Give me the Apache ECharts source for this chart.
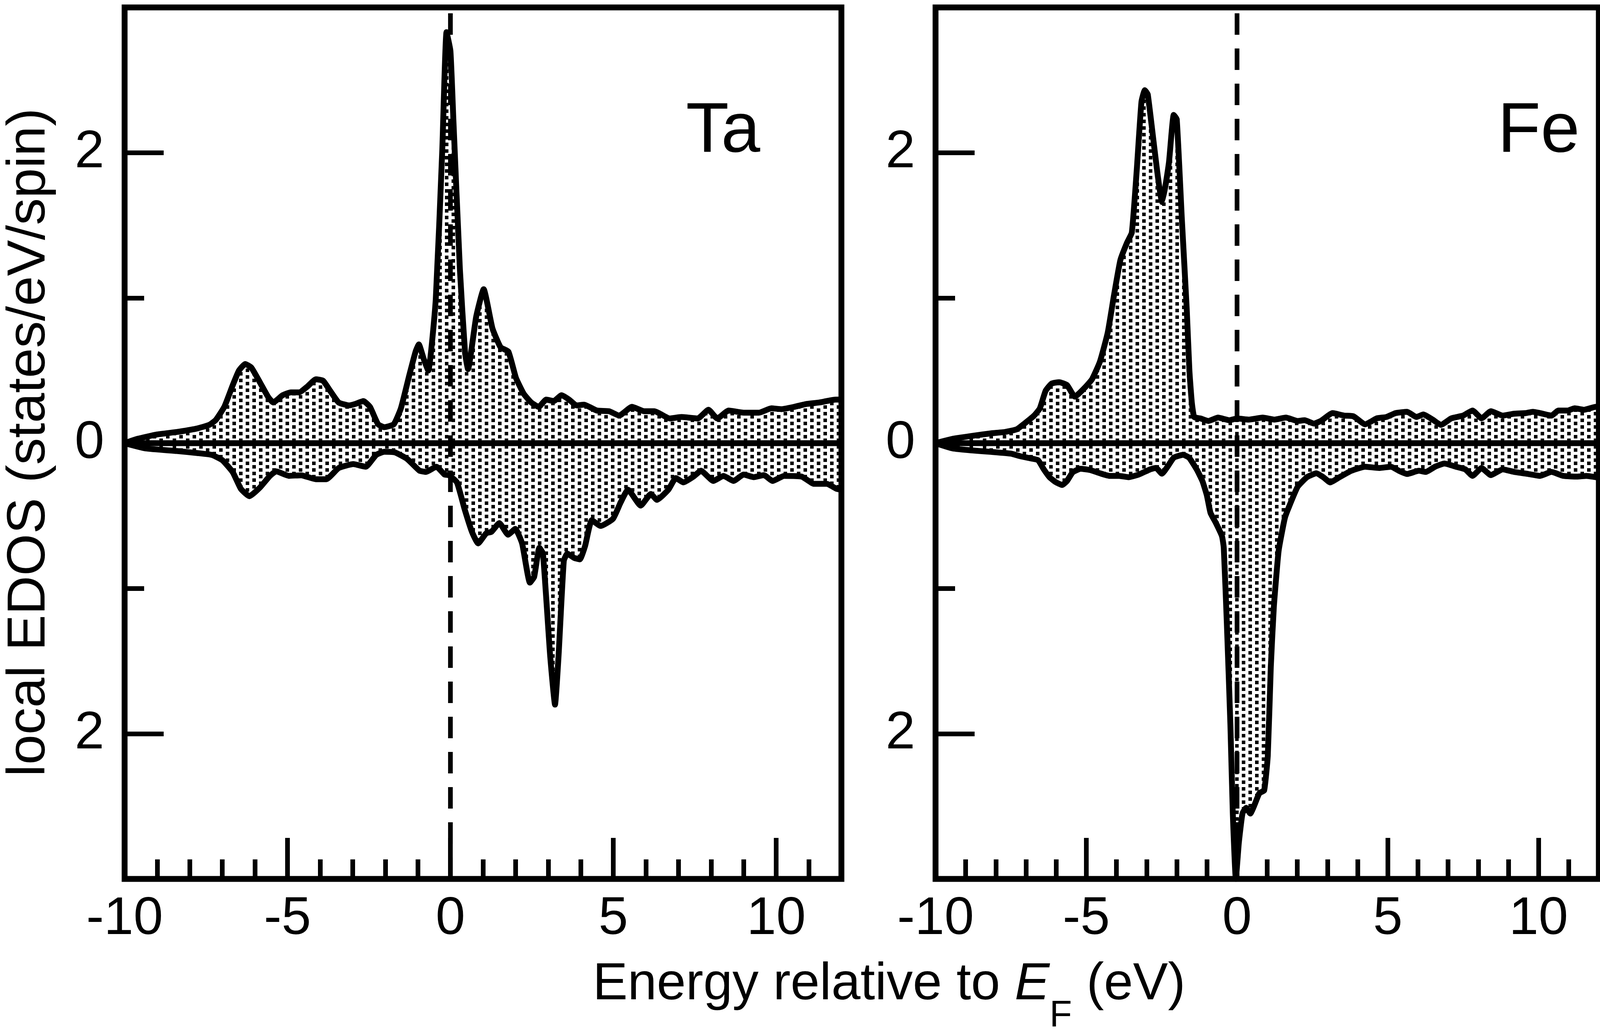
<!DOCTYPE html>
<html style="height: 100%">
<head>
<meta charset="utf-8">
<script src="https://cdn.jsdelivr.net/npm/echarts@6/dist/echarts.min.js"></script>
</head>
<body style="height: 100%; margin: 0; background: #ffffff">
<div id="container" style="height: 100%"></div>
<script type="text/javascript">
// local EDOS, [energy (eV), states/eV/spin]; spin down stored as negative
var taUp = [[-10,0],[-9.6,0.03],[-9.0,0.06],[-8.4,0.077],[-7.8,0.1],[-7.4,0.126],[-7.2,0.16],[-6.94,0.25],[-6.68,0.40],[-6.49,0.50],[-6.3,0.545],[-6.11,0.52],[-5.85,0.42],[-5.6,0.32],[-5.44,0.28],[-5.15,0.33],[-4.9,0.35],[-4.64,0.35],[-4.39,0.39],[-4.13,0.44],[-3.91,0.43],[-3.69,0.36],[-3.43,0.28],[-3.11,0.26],[-2.92,0.27],[-2.67,0.29],[-2.47,0.25],[-2.22,0.13],[-2.03,0.11],[-1.74,0.13],[-1.52,0.24],[-1.26,0.47],[-1.07,0.63],[-0.97,0.68],[-0.82,0.58],[-0.68,0.5],[-0.45,0.99],[-0.25,2.02],[-0.12,2.83],[0.0,2.7],[0.09,2.23],[0.29,1.2],[0.45,0.62],[0.54,0.51],[0.79,0.87],[1.02,1.06],[1.29,0.79],[1.54,0.66],[1.78,0.63],[2.01,0.45],[2.25,0.34],[2.48,0.28],[2.71,0.25],[2.94,0.30],[3.17,0.29],[3.41,0.33],[3.64,0.30],[3.87,0.26],[4.1,0.265],[4.49,0.225],[4.87,0.22],[5.18,0.19],[5.57,0.25],[5.95,0.22],[6.26,0.22],[6.73,0.17],[7.09,0.18],[7.59,0.17],[7.92,0.23],[8.19,0.17],[8.54,0.225],[9.0,0.21],[9.47,0.21],[9.85,0.24],[10.16,0.234],[10.55,0.25],[10.93,0.27],[11.32,0.28],[11.55,0.29],[11.82,0.30],[12,0.30]];
var taDown = [[-10,0],[-9.36,-0.036],[-8.4,-0.054],[-7.77,-0.068],[-7.32,-0.081],[-7.0,-0.117],[-6.68,-0.2],[-6.43,-0.315],[-6.17,-0.365],[-5.85,-0.306],[-5.54,-0.225],[-5.35,-0.194],[-4.96,-0.225],[-4.58,-0.221],[-4.13,-0.248],[-3.81,-0.248],[-3.43,-0.171],[-2.98,-0.144],[-2.6,-0.162],[-2.28,-0.081],[-2.03,-0.059],[-1.71,-0.063],[-1.33,-0.108],[-0.95,-0.189],[-0.75,-0.198],[-0.43,-0.162],[-0.18,-0.216],[-0.05,-0.22],[0.2,-0.27],[0.43,-0.45],[0.66,-0.61],[0.85,-0.69],[1.1,-0.62],[1.26,-0.61],[1.5,-0.55],[1.77,-0.63],[1.99,-0.59],[2.2,-0.69],[2.44,-0.96],[2.57,-0.92],[2.73,-0.72],[2.84,-0.76],[3.06,-1.46],[3.21,-1.80],[3.32,-1.46],[3.48,-0.81],[3.59,-0.76],[3.8,-0.79],[3.97,-0.80],[4.13,-0.71],[4.34,-0.53],[4.61,-0.57],[4.99,-0.52],[5.22,-0.41],[5.45,-0.32],[5.84,-0.43],[6.15,-0.35],[6.34,-0.39],[6.69,-0.32],[6.92,-0.24],[7.15,-0.27],[7.46,-0.23],[7.69,-0.19],[8.07,-0.26],[8.38,-0.225],[8.69,-0.26],[9.0,-0.216],[9.31,-0.234],[9.62,-0.22],[9.89,-0.26],[10.24,-0.225],[10.78,-0.23],[11.16,-0.28],[11.55,-0.28],[11.86,-0.315],[12,-0.32]];
var feUp = [[-10,0],[-9.43,0.03],[-8.79,0.05],[-8.15,0.068],[-7.7,0.077],[-7.31,0.095],[-7.05,0.135],[-6.73,0.19],[-6.54,0.24],[-6.35,0.36],[-6.15,0.41],[-5.9,0.42],[-5.64,0.40],[-5.38,0.32],[-5.06,0.38],[-4.81,0.44],[-4.55,0.56],[-4.29,0.76],[-4.08,1.02],[-3.87,1.26],[-3.65,1.38],[-3.49,1.45],[-3.33,1.87],[-3.17,2.35],[-3.06,2.43],[-2.96,2.40],[-2.48,1.66],[-2.26,1.93],[-2.1,2.26],[-2.0,2.23],[-1.83,1.54],[-1.67,0.93],[-1.58,0.5],[-1.5,0.28],[-1.42,0.18],[-1.21,0.17],[-0.95,0.153],[-0.63,0.176],[-0.25,0.158],[0,0.17],[0.39,0.162],[0.85,0.176],[1.24,0.162],[1.62,0.176],[2.01,0.153],[2.24,0.158],[2.55,0.135],[2.78,0.153],[3.17,0.207],[3.55,0.19],[3.86,0.185],[4.25,0.13],[4.64,0.171],[4.95,0.18],[5.26,0.207],[5.64,0.216],[5.95,0.18],[6.18,0.198],[6.49,0.162],[6.76,0.126],[7.11,0.171],[7.5,0.19],[7.81,0.225],[8.11,0.171],[8.42,0.22],[8.81,0.19],[9.2,0.203],[9.58,0.207],[9.81,0.216],[10.05,0.207],[10.43,0.19],[10.66,0.225],[10.97,0.225],[11.2,0.24],[11.51,0.23],[11.9,0.25],[12,0.25]];
var feDown = [[-10,0],[-9.43,-0.036],[-8.79,-0.05],[-8.15,-0.06],[-7.5,-0.072],[-7.18,-0.09],[-6.86,-0.104],[-6.6,-0.117],[-6.41,-0.18],[-6.22,-0.234],[-6.03,-0.266],[-5.8,-0.288],[-5.64,-0.26],[-5.45,-0.2],[-5.19,-0.176],[-4.87,-0.185],[-4.55,-0.207],[-4.23,-0.225],[-3.91,-0.225],[-3.59,-0.234],[-3.26,-0.216],[-2.88,-0.18],[-2.69,-0.17],[-2.49,-0.21],[-2.3,-0.16],[-2.1,-0.1],[-1.79,-0.08],[-1.59,-0.1],[-1.34,-0.18],[-1.15,-0.26],[-1.0,-0.36],[-0.88,-0.48],[-0.7,-0.55],[-0.5,-0.64],[-0.44,-0.72],[-0.34,-1.23],[-0.22,-1.94],[-0.14,-2.55],[-0.04,-3.0],[0.06,-2.75],[0.18,-2.55],[0.3,-2.51],[0.44,-2.55],[0.58,-2.49],[0.74,-2.41],[0.9,-2.39],[1.02,-2.15],[1.12,-1.54],[1.22,-1.13],[1.38,-0.74],[1.58,-0.52],[1.7,-0.45],[2.01,-0.30],[2.32,-0.234],[2.63,-0.207],[2.86,-0.234],[3.09,-0.27],[3.4,-0.234],[3.79,-0.19],[4.25,-0.162],[4.71,-0.171],[5.1,-0.162],[5.41,-0.194],[5.64,-0.212],[6.03,-0.19],[6.26,-0.198],[6.57,-0.162],[6.88,-0.14],[7.26,-0.162],[7.57,-0.18],[7.81,-0.225],[8.11,-0.171],[8.42,-0.22],[8.81,-0.18],[9.2,-0.198],[9.66,-0.212],[10.05,-0.225],[10.43,-0.198],[10.82,-0.225],[11.28,-0.23],[11.59,-0.225],[11.9,-0.234],[12,-0.235]];

var panelNames = ['Ta', 'Fe'];
var xRange = [-10, 12];
var yRange = [-3, 3];
var zeroLine = [[-10, 0], [12, 0]];
var fermiLine = [[0, -3], [0, 3]];

var dom = document.getElementById("container");
var myChart = echarts.init(dom);
window.onresize = myChart.resize;

// stipple used for the filled areas
var dots = document.createElement('canvas');
dots.width = 34;
dots.height = 34;
var ctx = dots.getContext('2d');
ctx.fillStyle = '#000';
ctx.fillRect(0, 0, 9, 9);
ctx.fillRect(0, 17, 9, 9);
ctx.fillRect(17, 8, 9, 9);
ctx.fillRect(17, 25, 9, 9);
var stipple = { image: dots, repeat: 'repeat' };

var font = 'Liberation Sans';
var tickStyle = { color: '#000', width: 12 };
var noLine = { show: false, onZero: false };

function xAxesFor(gi) {
	return [{
		type: 'value', gridIndex: gi, position: 'bottom',
		min: xRange[0], max: xRange[1], interval: 1,
		axisLine: noLine, splitLine: { show: false },
		axisTick: { inside: true, length: 50, lineStyle: tickStyle },
		axisLabel: {
			margin: 35, fontSize: 136, color: '#000', fontFamily: font,
			formatter: function (v) { return v % 5 === 0 ? String(v) : ''; }
		}
	}, {
		type: 'value', gridIndex: gi, position: 'bottom',
		min: xRange[0], max: xRange[1], interval: 5,
		axisLine: noLine, splitLine: { show: false },
		axisLabel: { show: false },
		axisTick: { inside: true, length: 105, lineStyle: tickStyle }
	}];
}

function yAxesFor(gi) {
	return [{
		type: 'value', gridIndex: gi, position: 'left',
		min: yRange[0], max: yRange[1], interval: 1,
		axisLine: noLine, splitLine: { show: false },
		axisTick: { inside: true, length: 50, lineStyle: tickStyle },
		axisLabel: {
			margin: 52, fontSize: 136, color: '#000', fontFamily: font,
			formatter: function (v) { return v % 2 === 0 ? String(Math.abs(v)) : ''; }
		}
	}, {
		type: 'value', gridIndex: gi, position: 'left',
		min: yRange[0], max: yRange[1], splitNumber: 3,
		axisLine: noLine, splitLine: { show: false },
		axisLabel: { show: false },
		axisTick: { inside: true, length: 100, lineStyle: tickStyle }
	}];
}

function edos(data, gi) {
	return {
		type: 'line', xAxisIndex: gi * 2, yAxisIndex: gi * 2,
		data: data, showSymbol: false, smooth: 0.15, z: 3,
		lineStyle: { color: '#000', width: 15, join: 'round' },
		areaStyle: { color: stipple, opacity: 1 }
	};
}

function plain(data, gi, width, dash, z) {
	return {
		type: 'line', xAxisIndex: gi * 2, yAxisIndex: gi * 2,
		data: data, showSymbol: false, z: z, silent: true,
		lineStyle: { color: '#000', width: width, type: dash }
	};
}

var frame = { show: true, borderColor: '#000', borderWidth: 15, backgroundColor: 'transparent' };

option = {
	backgroundColor: '#ffffff',
	animation: false,
	grid: [
		Object.assign({ left: 319, top: 19, width: 1835, height: 2230 }, frame),
		Object.assign({ left: 2395, top: 19, width: 1835, height: 2230 }, frame)
	],
	xAxis: xAxesFor(0).concat(xAxesFor(1)),
	yAxis: yAxesFor(0).concat(yAxesFor(1)),
	series: [
		edos(taUp, 0), edos(taDown, 0),
		plain(zeroLine, 0, 15, 'solid', 4),
		plain(fermiLine, 0, 12, [55, 35], 5),
		edos(feUp, 1), edos(feDown, 1),
		plain(zeroLine, 1, 15, 'solid', 4),
		plain(fermiLine, 1, 12, [55, 35], 5)
	],
	graphic: [{
		type: 'text', x: 1851, y: 338,
		style: { text: panelNames[0], fontSize: 180, fontFamily: font, fill: '#000', align: 'center', verticalAlign: 'middle' }
	}, {
		type: 'text', x: 3939, y: 338,
		style: { text: panelNames[1], fontSize: 180, fontFamily: font, fill: '#000', align: 'center', verticalAlign: 'middle' }
	}, {
		type: 'text', x: 76, y: 1132, rotation: Math.PI / 2,
		style: { text: 'local EDOS (states/eV/spin)', fontSize: 138, fontFamily: font, fill: '#000', align: 'center', verticalAlign: 'middle' }
	}, {
		type: 'text', x: 2276, y: 2520,
		style: {
			text: '{n|Energy relative to }{i|E}{s|F}{n| (eV)}',
			align: 'center', verticalAlign: 'middle',
			rich: {
				n: { fontSize: 134, fontFamily: font, color: '#000' },
				i: { fontSize: 134, fontFamily: font, fontStyle: 'italic', color: '#000' },
				s: { fontSize: 94, fontFamily: font, color: '#000', padding: [160, 0, 0, 0] }
			}
		}
	}]
};

if (option && typeof option === "object") {
	myChart.setOption(option, true);
}
</script>
</body>
</html>
